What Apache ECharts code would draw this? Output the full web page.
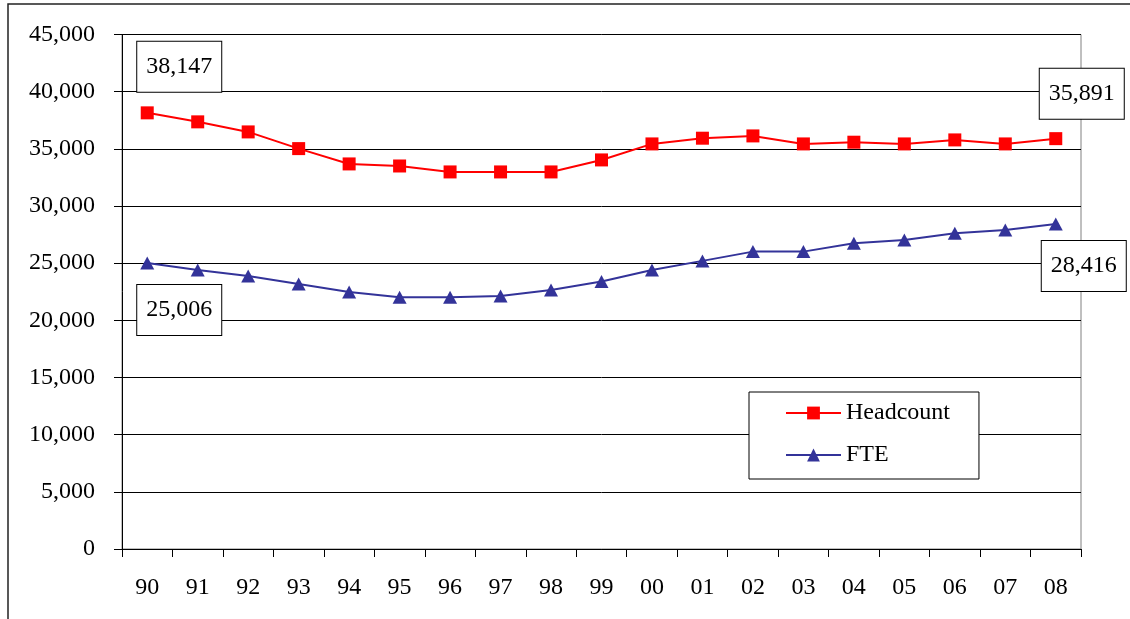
<!DOCTYPE html>
<html>
<head>
<meta charset="utf-8">
<title>Headcount and FTE, 1990–2008</title>
<script src="https://cdn.jsdelivr.net/npm/echarts@6/dist/echarts.min.js"></script>
<style>
  html, body { margin: 0; padding: 0; background: #ffffff; }
  #chart { width: 1130px; height: 619px; }
</style>
</head>
<body>
<div id="chart"></div>
<script>
// Fiscal years shown as two-digit labels
const years = ['90', '91', '92', '93', '94', '95', '96', '97', '98', '99',
               '00', '01', '02', '03', '04', '05', '06', '07', '08'];

// Staff headcount per year
const headcount = [38147, 37360, 36480, 35020, 33680, 33500, 32980, 32980, 32980, 34030,
                   35430, 35930, 36130, 35430, 35580, 35430, 35780, 35430, 35891];

// Full-time equivalents per year
const fte = [25006, 24410, 23880, 23180, 22480, 22020, 22020, 22130, 22660, 23390,
             24410, 25200, 26010, 26010, 26740, 27030, 27620, 27910, 28416];

// Value-axis range and step
const yMin = 0, yMax = 45000, yStep = 5000;

const FONT = '"Liberation Serif", "Times New Roman", serif';
const fmt = v => Math.round(v).toLocaleString('en-US');

// Boxed value callouts on the first and last points of each line
function calloutLabel(offset) {
  return {
    show: true,
    position: 'inside',
    offset: offset,
    formatter: p => fmt(p.value),
    color: '#000',
    fontFamily: FONT,
    fontSize: 24,
    lineHeight: 24,
    backgroundColor: '#ffffff',
    borderColor: '#000',
    borderWidth: 1,
    padding: [13, 9, 13, 9]
  };
}

function withCallouts(values, firstOffset, lastOffset) {
  return values.map((v, i) => {
    if (i === 0) return { value: v, label: calloutLabel(firstOffset) };
    if (i === values.length - 1) return { value: v, label: calloutLabel(lastOffset) };
    return v;
  });
}

const chart = echarts.init(document.getElementById('chart'), null, { renderer: 'canvas' });

chart.setOption({
  animation: false,
  backgroundColor: '#ffffff',
  textStyle: { fontFamily: FONT },
  graphic: [{
    type: 'rect',
    shape: { x: 8, y: 4, width: 1140, height: 700 },
    style: { fill: 'none', stroke: '#222', lineWidth: 1.5 },
    silent: true,
    z: -1
  }],
  grid: {
    left: 122, right: 49, top: 34.5, bottom: 70,
    show: true,
    borderColor: '#808080',
    borderWidth: 1,
    backgroundColor: 'transparent'
  },
  legend: {
    orient: 'vertical',
    left: 749,
    top: 392,
    backgroundColor: '#ffffff',
    borderColor: '#000',
    borderWidth: 1,
    padding: [9, 29, 12, 36],
    itemGap: 18,
    itemWidth: 55,
    itemHeight: 16,
    textStyle: { color: '#000', fontFamily: FONT, fontSize: 24, lineHeight: 24 },
    data: ['Headcount', 'FTE']
  },
  xAxis: {
    type: 'category',
    data: years,
    boundaryGap: true,
    axisLine: { lineStyle: { color: '#000', width: 1 } },
    axisTick: { show: true, length: 8, lineStyle: { color: '#000' } },
    axisLabel: { color: '#000', fontFamily: FONT, fontSize: 24, margin: 27 },
    splitLine: { show: false }
  },
  yAxis: {
    type: 'value',
    min: yMin, max: yMax, interval: yStep,
    axisLine: { show: true, lineStyle: { color: '#000', width: 1 } },
    axisTick: { show: true, length: 8, lineStyle: { color: '#000' } },
    axisLabel: { color: '#000', fontFamily: FONT, fontSize: 24, margin: 27, formatter: v => fmt(v) },
    splitLine: { show: true, lineStyle: { color: '#000', width: 1 } }
  },
  series: [
    {
      name: 'Headcount',
      type: 'line',
      data: withCallouts(headcount, [32, -46], [26, -45]),
      symbol: 'rect',
      symbolSize: 13,
      color: '#ff0000',
      lineStyle: { color: '#ff0000', width: 2 },
      itemStyle: { color: '#ff0000' },
      label: { show: false },
      z: 3
    },
    {
      name: 'FTE',
      type: 'line',
      data: withCallouts(fte, [32, 47], [28, 42]),
      symbol: 'triangle',
      symbolSize: [14, 13],
      color: '#333399',
      lineStyle: { color: '#333399', width: 2 },
      itemStyle: { color: '#333399' },
      label: { show: false },
      z: 3
    }
  ]
});
</script>
</body>
</html>
